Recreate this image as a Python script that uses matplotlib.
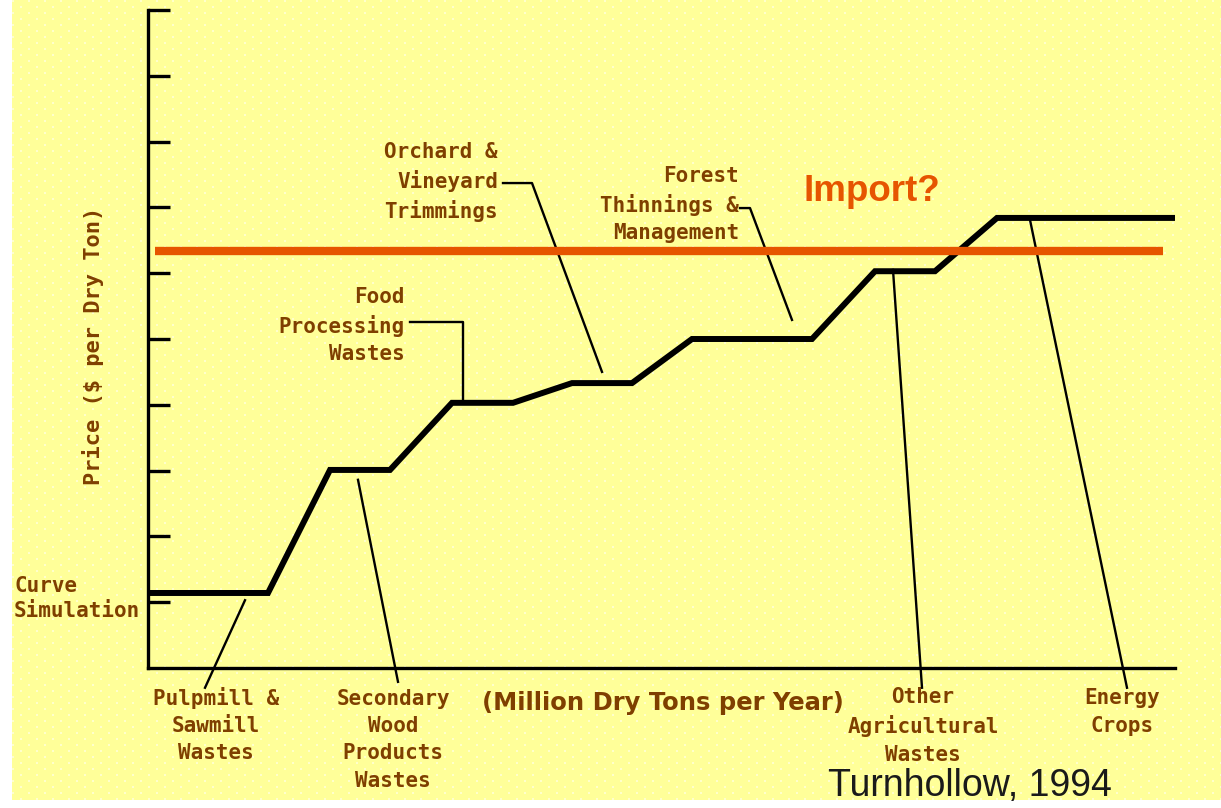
import numpy as np
import matplotlib.pyplot as plt
import matplotlib.colors as mcolors

# supply curve (million dry tons per year vs. price index)
supply_x = [0, 12, 18.2, 24.2, 30.4, 36.5, 42.4, 48.4, 54.4, 66.4, 72.7, 78.7, 84.9, 102.7]
supply_y = [1.14, 1.14, 3.01, 3.01, 4.03, 4.03, 4.33, 4.33, 5.0, 5.0, 6.03, 6.03, 6.84, 6.84]

import_x = [0.7, 101.5]
import_y = [6.34, 6.34]

# leader lines from labels to curve segments
leaders = {
    'pulpmill': ([9.7, 5.7], [1.03, -0.30]),
    'secondary': ([21.0, 25.0], [2.86, -0.21]),
    'food': ([26.2, 31.5, 31.5], [5.26, 5.26, 4.03]),
    'orchard': ([35.5, 38.4, 45.4], [7.37, 7.37, 4.50]),
    'forest': ([59.2, 60.2, 64.4], [6.99, 6.99, 5.29]),
    'otherag': ([74.5, 77.4], [6.05, -0.30]),
    'energy': ([88.2, 97.9], [6.81, -0.30]),
}

yticks = [1, 2, 3, 4, 5, 6, 7, 8, 9, 10]

W, H = 1221, 808
BG = '#FFFF99'
DOT = '#FFFFCC'
BROWN = '#7F3F00'
ORANGE = '#E65500'

fig = plt.figure(figsize=(W / 100, H / 100), dpi=100)
fig.patch.set_facecolor('white')

# dithered yellow background of the old slide
bw, bh = W - 12, H - 8
bg = np.ones((bh, bw, 3)) * mcolors.to_rgb(BG)
yy, xx = np.mgrid[0:bh, 0:bw]
dots = ((yy % 6) < 2) & (((xx + 8 * ((yy // 6) % 2)) % 16) < 2)
bg[dots] = mcolors.to_rgb(DOT)
fig.figimage(bg, xo=12, yo=8, zorder=-10, origin='upper')

ax = fig.add_axes([148 / W, 140 / H, (1175 - 148) / W, (668 - 10) / H])
ax.set_facecolor('none')
ax.set_xlim(0, 102.7)
ax.set_ylim(0, 10)

ax.spines['top'].set_visible(False)
ax.spines['right'].set_visible(False)
for s in ['left', 'bottom']:
    ax.spines[s].set_color('black')
    ax.spines[s].set_linewidth(2.4)
ax.set_xticks([])
ax.set_yticks(yticks)
ax.set_yticklabels([])
ax.tick_params(axis='y', direction='in', length=16, width=2.4, color='black')

ax.plot(supply_x, supply_y, color='black', lw=4.3, solid_joinstyle='miter', zorder=3)
ax.plot(import_x, import_y, color=ORANGE, lw=6, solid_capstyle='butt', zorder=4)

for xs, ys in leaders.values():
    ax.plot(xs, ys, color='black', lw=1.7, clip_on=False, zorder=2)

ax.text(72.4, 7.24, 'Import?', color=ORANGE, fontsize=26.5, fontweight='bold',
        family='Liberation Sans', ha='center', va='center')

lab = dict(color=BROWN, fontsize=15, fontweight='bold', family='DejaVu Sans Mono',
           linespacing=1.45, clip_on=False)
ax.text(6.8, -0.87, 'Pulpmill &\nSawmill\nWastes', ha='center', va='center', **lab)
ax.text(24.5, -1.09, 'Secondary\nWood\nProducts\nWastes', ha='center', va='center', **lab)
ax.text(77.5, -0.88, 'Other\nAgricultural\nWastes', ha='center', va='center', **lab)
ax.text(97.4, -0.67, 'Energy\nCrops', ha='center', va='center', **lab)
ax.text(25.7, 5.21, 'Food\nProcessing\nWastes', ha='right', va='center', **lab)
ax.text(35.0, 7.39, 'Orchard &\nVineyard\nTrimmings', ha='right', va='center', **lab)
ax.text(59.1, 7.04, 'Forest\nThinnings &\nManagement', ha='right', va='center', **lab)
ax.text(-13.4, 1.06, 'Curve\nSimulation', ha='left', va='center',
        **{**lab, 'linespacing': 1.3})
ax.text(-5.5, 4.9, 'Price ($ per Dry Ton)', rotation=90, ha='center', va='center',
        **{**lab, 'fontsize': 15.8})

ax.text(51.5, -0.53, '(Million Dry Tons per Year)', color=BROWN, fontsize=17.5,
        fontweight='bold', family='DejaVu Sans', ha='center', va='center', clip_on=False)

ax.text(96.4, -1.8, 'Turnhollow, 1994', color='#1a1a1a', fontsize=27,
        family='Liberation Sans', ha='right', va='center', clip_on=False)

fig.savefig('out.png', dpi=100, facecolor='white')
